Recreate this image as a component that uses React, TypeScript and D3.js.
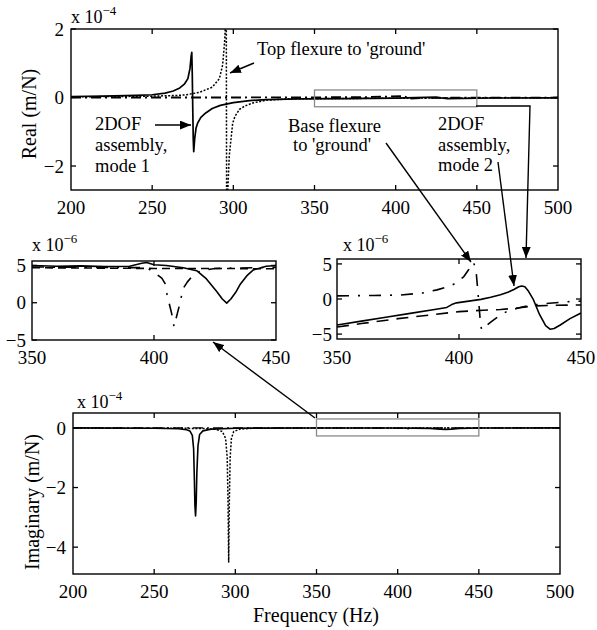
import React from "react";
import * as d3 from "d3";

// ---- Real part, main plot (x 1e-4 m/N) ----
const realFreq2dof = [200, 220, 240, 250, 258, 263, 267, 270, 272, 273.3, 274, 274.4, 274.7, 275, 275.3, 275.6, 276.2, 277, 278, 280, 283, 287, 292, 300, 310, 320, 340, 370, 400, 425, 428, 432, 460, 500];
const real2dof = [0.03, 0.04, 0.06, 0.08, 0.13, 0.19, 0.28, 0.4, 0.55, 0.85, 1.2, 1.32, 0.7, -0.3, -1.2, -1.58, -1.2, -0.9, -0.75, -0.58, -0.45, -0.32, -0.23, -0.15, -0.09, -0.06, -0.04, -0.03, -0.02, 0.01, -0.01, -0.03, -0.015, -0.01];

const realFreqTop = [200, 230, 250, 265, 271, 279, 287, 291.4, 293.4, 294.6, 295.2, 295.6, 295.9, 296.5, 297.5, 298.6, 299.6, 301, 303.7, 307, 312, 320, 335, 360, 400, 450, 500];
const realTop = [0.02, 0.03, 0.04, 0.06, 0.08, 0.15, 0.3, 0.55, 0.95, 1.6, 2.2, 4, -4, -2.8, -1.7, -1.2, -0.75, -0.55, -0.35, -0.25, -0.16, -0.08, -0.04, -0.03, -0.02, -0.01, -0.01];

const realFreqBase = [200, 300, 380, 405, 409, 420, 450, 500];
const realBase = [0.0, 0.0, 0.01, 0.04, -0.03, -0.01, -0.005, 0];

// ---- Imaginary part, main plot (x 1e-4 m/N) ----
const imagFreq2dof = [200, 250, 265, 270, 272, 273.5, 274.3, 274.8, 275.1, 275.5, 275.9, 276.3, 277, 278, 280, 285, 300, 350, 400, 420, 426, 429.8, 433, 438, 450, 500];
const imag2dof = [0, -0.01, -0.03, -0.06, -0.1, -0.25, -0.7, -1.8, -2.6, -2.95, -2.5, -1.5, -0.6, -0.22, -0.1, -0.04, -0.01, -0.005, -0.003, -0.015, -0.04, -0.05, -0.04, -0.015, -0.003, 0];

const imagFreqTop = [200, 260, 280, 288, 292, 294, 295, 295.5, 295.9, 296.3, 296.8, 297.6, 299, 303, 310, 330, 400, 500];
const imagTop = [-0.01, -0.01, -0.02, -0.05, -0.12, -0.35, -1.0, -2.5, -4.5, -2.5, -1.0, -0.35, -0.12, -0.04, -0.015, -0.005, 0, 0];

const imagFreqBase = [200, 380, 404, 407, 410, 430, 500];
const imagBase = [0, 0, -0.01, -0.03, -0.01, 0, 0];

// ---- Zoomed real part 350-450 Hz (x 1e-6 m/N) ----
const zRealFreq2dof = [350, 360, 370, 380, 390, 395, 397, 399, 404, 409, 413, 417, 420, 422.5, 424.5, 425.7, 427, 428.5, 430.5, 433, 435.5, 437.3, 439, 441.5, 445.5, 450];
const zReal2dof = [-3.7, -3.15, -2.6, -2.05, -1.5, -1.2, -0.8, -0.55, -0.3, -0.05, 0.25, 0.6, 0.95, 1.35, 1.75, 1.86, 1.75, 1.1, -0.1, -2.2, -3.8, -4.3, -4.2, -3.7, -2.8, -2.0];

const zRealFreqTop = [350, 360, 375, 390, 400, 410, 417, 425, 430, 440, 450];
const zRealTop = [-4.0, -3.5, -2.8, -2.2, -1.8, -1.6, -1.5, -1.25, -1.0, -0.9, -0.85];

const zRealFreqBase = [350, 365, 376, 385, 391, 396, 399, 402, 404, 405.2, 406, 407, 408, 408.8, 409.3, 410.5, 413.4, 416.5, 419.5, 425, 430, 437, 444, 450];
const zRealBase = [0.45, 0.5, 0.57, 0.85, 1.3, 1.8, 2.3, 3.2, 4.2, 4.9, 5.2, 4.0, 0, -3.5, -4.4, -4.0, -3.2, -2.4, -1.8, -1.2, -0.86, -0.6, -0.4, -0.3];

// ---- Zoomed imaginary part 350-450 Hz (x 1e-6 m/N) ----
const zImagFreq2dof = [350, 360, 370, 380, 390, 395, 397, 400, 405, 412, 417.5, 421.5, 425.7, 428, 429.8, 431.5, 433.5, 435.2, 438, 440.7, 446, 450];
const zImag2dof = [5.0, 4.9, 4.95, 4.85, 4.9, 5.3, 5.4, 5.1, 5.0, 4.7, 4.3, 3.2, 1.5, 0.5, -0.05, 0.5, 1.4, 2.4, 3.6, 4.4, 4.9, 5.0];

const zImagFreqTop = [350, 375, 400, 425, 450];
const zImagTop = [4.7, 4.65, 4.6, 4.6, 4.55];

const zImagFreqBase = [350, 375, 397, 399.5, 403.2, 404.5, 405.2, 407.2, 408.2, 409.6, 411, 411.7, 413.7, 416, 419.2, 425, 450];
const zImagBase = [4.8, 4.75, 4.7, 4.2, 3.3, 2.6, 1.3, -1.4, -3.2, -1.4, 0.4, 1.8, 2.8, 3.7, 4.3, 4.6, 4.75];

const mainXTicks = [200, 250, 300, 350, 400, 450, 500];
const zoomXTicks = [350, 400, 450];
const realYTicks = [-2, 0, 2];
const imagYTicks = [-4, -2, 0];
const zoomYTicks = [-5, 0, 5];
// zoom window drawn on the main plots: [f0, f1, v0, v1]
const realZoomBox = [350, 450, -0.27, 0.22];
const imagZoomBox = [350, 450, -0.27, 0.3];

const FONT = "'Liberation Serif', 'Times New Roman', serif";
const DOT = "2,1.6";
const DASH = "8,5";
const DASHDOT = "10,4,2,4";

type Series = { f: number[]; v: number[]; dash?: string; w?: number };
type Box = { x0: number; x1: number; y0: number; y1: number };

const zip = (f: number[], v: number[]) => f.map((d, i) => [d, v[i]] as [number, number]);
const fmt = (n: number) => String(n).replace("-", "\u2212");

function Panel(props: {
  id: string; box: Box; xDomain: [number, number]; yDomain: [number, number];
  xTicks: number[]; yTicks: number[]; series: Series[]; exp: string;
  yLabelX: number; xLabelY: number; zoomBox?: number[]; expX: number; expY: number;
}) {
  const { id, box, xDomain, yDomain, xTicks, yTicks, series, exp } = props;
  const x = d3.scaleLinear().domain(xDomain).range([box.x0, box.x1]);
  const y = d3.scaleLinear().domain(yDomain).range([box.y1, box.y0]);
  const line = d3.line<[number, number]>().x(d => x(d[0])).y(d => y(d[1]));
  const tl = 5;
  const inner = xTicks.filter(t => t > xDomain[0] && t < xDomain[1]);
  return (
    <g>
      <defs>
        <clipPath id={id}>
          <rect x={box.x0} y={box.y0} width={box.x1 - box.x0} height={box.y1 - box.y0} />
        </clipPath>
      </defs>
      <g clipPath={`url(#${id})`}>
        {series.map((s, i) => (
          <path key={i} d={line(zip(s.f, s.v)) || ""} fill="none" stroke="#000"
            strokeWidth={s.w ?? 1.4} strokeDasharray={s.dash} strokeLinejoin="round" />
        ))}
      </g>
      {props.zoomBox && (
        <rect x={x(props.zoomBox[0])} y={y(props.zoomBox[3])}
          width={x(props.zoomBox[1]) - x(props.zoomBox[0])}
          height={y(props.zoomBox[2]) - y(props.zoomBox[3])}
          fill="none" stroke="#8a8a8a" strokeWidth={1.3} />
      )}
      <rect x={box.x0} y={box.y0} width={box.x1 - box.x0} height={box.y1 - box.y0}
        fill="none" stroke="#000" strokeWidth={1.4} />
      {inner.map(t => (
        <g key={"xt" + t}>
          <line x1={x(t)} x2={x(t)} y1={box.y1} y2={box.y1 - tl} stroke="#000" strokeWidth={1.3} />
          <line x1={x(t)} x2={x(t)} y1={box.y0} y2={box.y0 + tl} stroke="#000" strokeWidth={1.3} />
        </g>
      ))}
      {yTicks.map(t => (
        <g key={"yt" + t}>
          <line x1={box.x0} x2={box.x0 + tl} y1={y(t)} y2={y(t)} stroke="#000" strokeWidth={1.3} />
          <line x1={box.x1} x2={box.x1 - tl} y1={y(t)} y2={y(t)} stroke="#000" strokeWidth={1.3} />
        </g>
      ))}
      <g fontFamily={FONT} fontSize={19} fill="#000">
        {xTicks.map(t => (
          <text key={"xl" + t} x={x(t)} y={props.xLabelY} textAnchor="middle">{t}</text>
        ))}
        {yTicks.map(t => (
          <text key={"yl" + t} x={props.yLabelX} y={y(t)} dy="0.35em" textAnchor="end">{fmt(t)}</text>
        ))}
        <text x={props.expX} y={props.expY} fontSize={18}>
          x 10<tspan dy={-8} fontSize={13}>{"\u2212" + exp}</tspan>
        </text>
      </g>
    </g>
  );
}

export default function App() {
  const topBox = { x0: 71, x1: 558, y0: 29, y1: 190 };
  const botBox = { x0: 73, x1: 560, y0: 413, y1: 574 };
  const leftBox = { x0: 32, x1: 276, y0: 261, y1: 340 };
  const rightBox = { x0: 337, x1: 581, y0: 259, y1: 339 };

  const realMain: Series[] = [
    { f: realFreqBase, v: realBase, dash: DASHDOT, w: 1.8 },
    { f: realFreqTop, v: realTop, dash: DOT, w: 1.5 },
    { f: realFreq2dof, v: real2dof, w: 1.7 },
  ];
  const imagMain: Series[] = [
    { f: imagFreqBase, v: imagBase, dash: DASHDOT, w: 1.4 },
    { f: imagFreqTop, v: imagTop, dash: DOT, w: 1.5 },
    { f: imagFreq2dof, v: imag2dof, w: 1.6 },
  ];
  const realZoom: Series[] = [
    { f: zRealFreqTop, v: zRealTop, dash: "12,8", w: 1.6 },
    { f: zRealFreqBase, v: zRealBase, dash: "12,9,2,9", w: 1.6 },
    { f: zRealFreq2dof, v: zReal2dof, w: 1.6 },
  ];
  const imagZoom: Series[] = [
    { f: zImagFreqTop, v: zImagTop, dash: DASH, w: 1.6 },
    { f: zImagFreqBase, v: zImagBase, dash: "12,9,2,9", w: 1.6 },
    { f: zImagFreq2dof, v: zImag2dof, w: 1.6 },
  ];

  const arrow = { stroke: "#000", strokeWidth: 1.4, fill: "none", markerEnd: "url(#ah)" };

  return (
    <svg width={597} height={630} style={{ position: "absolute", left: 0, top: 0, background: "#fff" }}>
      <defs>
        <marker id="ah" viewBox="0 0 10 8" refX={10} refY={4} markerWidth={11} markerHeight={9}
          markerUnits="userSpaceOnUse" orient="auto">
          <path d="M0,0 L10,4 L0,8 Z" fill="#000" />
        </marker>
      </defs>
      <Panel id="cTop" box={topBox} xDomain={[200, 500]} yDomain={[-2.7, 2.0]} xTicks={mainXTicks}
        yTicks={realYTicks} series={realMain} exp="4" yLabelX={64} xLabelY={214}
        zoomBox={realZoomBox} expX={71} expY={23} />
      <Panel id="cLeft" box={leftBox} xDomain={[350, 450]} yDomain={[-5, 5.6]} xTicks={zoomXTicks}
        yTicks={zoomYTicks} series={imagZoom} exp="6" yLabelX={26} xLabelY={364}
        expX={32} expY={251} />
      <Panel id="cRight" box={rightBox} xDomain={[350, 450]} yDomain={[-5.7, 5.7]} xTicks={zoomXTicks}
        yTicks={zoomYTicks} series={realZoom} exp="6" yLabelX={332} xLabelY={364}
        expX={343} expY={251} />
      <Panel id="cBot" box={botBox} xDomain={[200, 500]} yDomain={[-4.9, 0.5]} xTicks={mainXTicks}
        yTicks={imagYTicks} series={imagMain} exp="4" yLabelX={66} xLabelY={598}
        zoomBox={imagZoomBox} expX={77} expY={408} />

      <g fontFamily={FONT} fill="#000">
        <text transform="translate(36,114) rotate(-90)" textAnchor="middle" fontSize={20}>Real (m/N)</text>
        <text transform="translate(39,502) rotate(-90)" textAnchor="middle" fontSize={20}>Imaginary (m/N)</text>
        <text x={316} y={622} textAnchor="middle" fontSize={20}>Frequency (Hz)</text>

        <g fontSize={18.5}>
          <text x={257} y={55}>Top flexure to 'ground'</text>
          <text x={95} y={130}>2DOF</text>
          <text x={95} y={151}>assembly,</text>
          <text x={95} y={172}>mode 1</text>
          <text x={288} y={132}>Base flexure</text>
          <text x={293} y={151}>to 'ground'</text>
          <text x={438} y={130}>2DOF</text>
          <text x={438} y={151}>assembly,</text>
          <text x={438} y={171}>mode 2</text>
        </g>
      </g>

      <line x1={254} y1={63} x2={230} y2={73} {...arrow} />
      <line x1={155} y1={125} x2={191} y2={125} {...arrow} />
      <line x1={386} y1={143} x2={471} y2={262} {...arrow} />
      <line x1={498} y1={162} x2={514} y2={286} {...arrow} />
      <polyline points="476,106 530,106 526,258" {...arrow} />
      <line x1={315} y1={418} x2={213} y2={342} {...arrow} />
    </svg>
  );
}
